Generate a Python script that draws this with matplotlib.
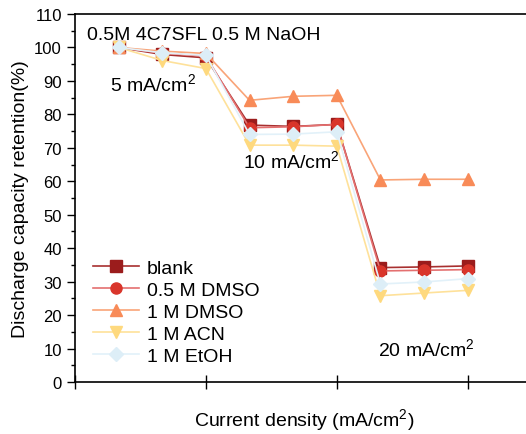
import matplotlib.pyplot as plt
from matplotlib.ticker import MultipleLocator

plt.rcParams['font.family'] = ['Liberation Sans', 'DejaVu Sans']
plt.rcParams['mathtext.fontset'] = 'custom'
plt.rcParams['mathtext.rm'] = 'Liberation Sans'

# cycle index (3 cycles per current density)
cycles = [1, 2, 3, 4, 5, 6, 7, 8, 9]

blank = [100, 97.9, 96.9, 76.8, 76.4, 77.0, 34.2, 34.4, 34.7]
dmso_05 = [100, 98.3, 97.4, 76.0, 76.3, 77.0, 33.2, 33.4, 33.6]
dmso_1 = [100, 98.9, 98.2, 84.2, 85.4, 85.7, 60.4, 60.6, 60.6]
acn_1 = [100, 96.1, 93.7, 70.8, 70.8, 70.5, 25.8, 26.6, 27.4]
etoh_1 = [100, 98.4, 97.6, 74.0, 74.1, 74.8, 29.3, 29.9, 30.9]

labels = ['blank', '0.5 M DMSO', '1 M DMSO', '1 M ACN', '1 M EtOH']
series = [blank, dmso_05, dmso_1, acn_1, etoh_1]
markers = ['s', 'o', '^', 'v', 'D']
marker_colors = ['#9b1c1c', '#d9352b', '#f88b58', '#fed97e', '#ddeef7']
line_colors = ['#a83030', '#e47070', '#f9a478', '#fee19a', '#e2f1f9']
marker_sizes = [8, 8, 9, 9, 7]

fig = plt.figure(figsize=(5.26, 4.35), dpi=100)
ax = fig.add_axes([0.1426, 0.1195, 0.871, 0.846])

for y, lab, m, mc, lc, ms in zip(series, labels, markers, marker_colors, line_colors, marker_sizes):
    ax.plot(cycles, y, color=lc, lw=1.2, marker=m, ms=ms, mfc=mc, mec=mc, label=lab)

ax.set_xlim(0, 10.5)
ax.set_ylim(0, 110)
ax.set_xticks([0, 3, 6, 9])
ax.set_xticklabels([])
ax.yaxis.set_major_locator(MultipleLocator(10))
ax.yaxis.set_minor_locator(MultipleLocator(5))
ax.tick_params(axis='x', direction='inout', length=10, width=1)
ax.tick_params(axis='y', which='major', direction='out', length=6, width=1, labelsize=12)
ax.tick_params(axis='y', which='minor', direction='out', length=3, width=1)
for sp in ax.spines.values():
    sp.set_linewidth(1.2)

ax.set_ylabel('Discharge capacity retention(%)', fontsize=14)
ax.set_xlabel('Current density (mA/cm$^2$)', fontsize=14, labelpad=9)

ax.text(0.28, 104, '0.5M 4C7SFL 0.5 M NaOH', fontsize=14, va='center')
ax.text(0.8, 89, '5 mA/cm$^2$', fontsize=14, va='center')
ax.text(3.85, 66, '10 mA/cm$^2$', fontsize=14, va='center')
ax.text(6.95, 10, '20 mA/cm$^2$', fontsize=14, va='center')

ax.legend(loc='lower left', bbox_to_anchor=(0.0, 0.0), frameon=False, fontsize=14,
          handlelength=2.4, handletextpad=0.4, labelspacing=0.22, borderaxespad=0.5)

fig.savefig('out.png', dpi=100)
